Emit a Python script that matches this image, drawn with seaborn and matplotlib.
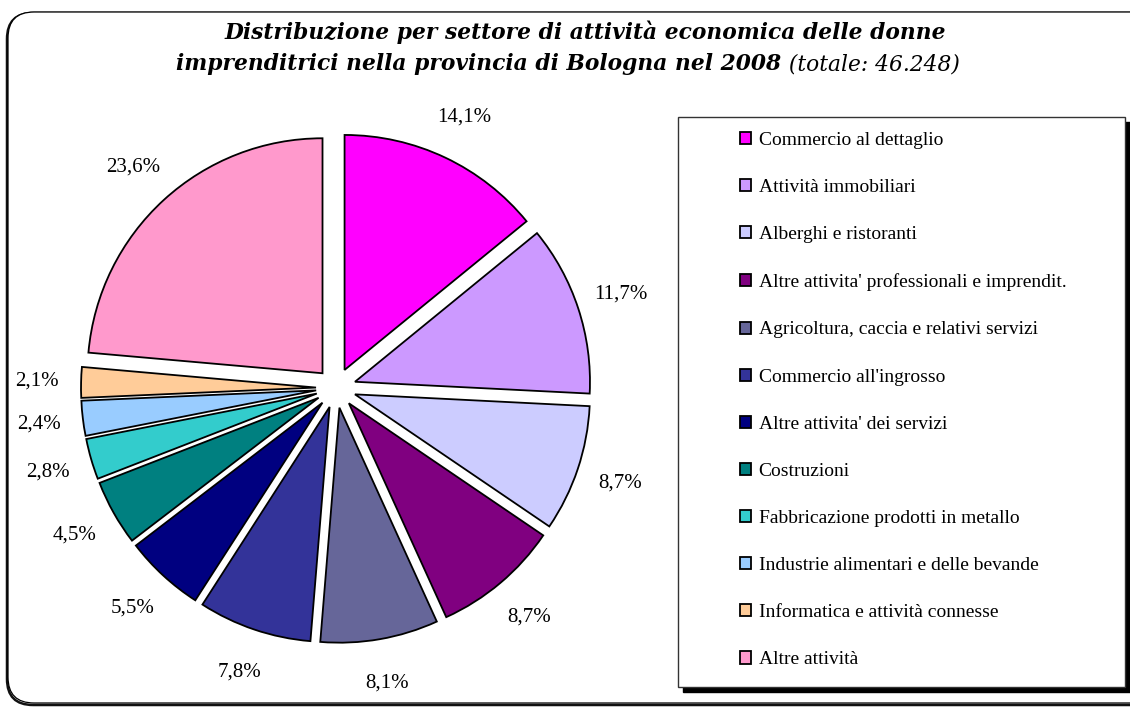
import matplotlib
matplotlib.use('Agg')
import matplotlib.pyplot as plt
import seaborn as sns
from matplotlib.patches import FancyBboxPatch, Rectangle
from matplotlib.transforms import IdentityTransform

# ---- data ----
categories = [
    "Commercio al dettaglio",
    "Attività immobiliari",
    "Alberghi e ristoranti",
    "Altre attivita' professionali e imprendit.",
    "Agricoltura, caccia e relativi servizi",
    "Commercio all'ingrosso",
    "Altre attivita' dei servizi",
    "Costruzioni",
    "Fabbricazione prodotti in metallo",
    "Industrie alimentari e delle bevande",
    "Informatica e attività connesse",
    "Altre attività",
]
shares = [14.1, 11.7, 8.7, 8.7, 8.1, 7.8, 5.5, 4.5, 2.8, 2.4, 2.1, 23.6]
colors = ["#FF00FF", "#CC99FF", "#CCCCFF", "#800080", "#666699", "#333399",
          "#000080", "#008080", "#33CCCC", "#99CCFF", "#FFCC99", "#FF99CC"]
title_line1 = "Distribuzione per settore di attività economica delle donne"
title_line2_bold = "imprenditrici nella provincia di Bologna nel 2008"
title_line2_rest = " (totale: 46.248)"

sns.set_theme(style="white")
plt.rcParams['font.family'] = ['Liberation Serif', 'DejaVu Serif']
palette = sns.color_palette(colors)

W, H = 1130, 707
fig = plt.figure(figsize=(W / 100, H / 100), dpi=100)
fig.patch.set_facecolor('white')

# outer rounded border with shadow
shadow = FancyBboxPatch((7, 2), 1150, 692, boxstyle="round,pad=0,rounding_size=26",
                        transform=IdentityTransform(), facecolor='none',
                        edgecolor='#111111', linewidth=1.8, zorder=0)
border = FancyBboxPatch((8, 4), 1150, 691, boxstyle="round,pad=0,rounding_size=26",
                        transform=IdentityTransform(), facecolor='white',
                        edgecolor='black', linewidth=0.9, zorder=0)
fig.add_artist(shadow)
fig.add_artist(border)

# legend box with shadow
lx0, ly_top, lx1, ly_bot = 678, 117, 1125, 687
fig.add_artist(Rectangle((lx0 + 5, H - ly_bot - 5), lx1 - lx0, ly_bot - ly_top,
                         transform=IdentityTransform(), facecolor='black',
                         edgecolor='black', zorder=0.5))
fig.add_artist(Rectangle((lx0, H - ly_bot), lx1 - lx0, ly_bot - ly_top,
                         transform=IdentityTransform(), facecolor='white',
                         edgecolor='#333333', linewidth=1.0, zorder=0.6))

# pie axes: 1 data unit = pie radius in pixels
R = 235.0
cx, cy = 336.0, H - 388.0
ax = fig.add_axes([0, 0, 1, 1])
ax.set_zorder(2)
ax.patch.set_alpha(0)
wedges, texts, autotexts = ax.pie(
    shares, colors=palette, startangle=90, counterclock=False,
    explode=[0.085] * len(shares), radius=1,
    autopct=lambda p: f"{p:.1f}%".replace('.', ','), pctdistance=1.19,
    textprops=dict(fontsize=15, color='black'),
    wedgeprops=dict(edgecolor='black', linewidth=1.3),
)
ax.set_aspect('auto')
ax.set_xlim(-cx / R, (W - cx) / R)
ax.set_ylim(-cy / R, (H - cy) / R)
ax.axis('off')

leg = ax.legend(wedges, categories, loc='upper left',
                bbox_to_anchor=(740 / W, 1 - 132 / H), bbox_transform=fig.transFigure,
                frameon=False, fontsize=14, handlelength=0.58, handleheight=0.58,
                handletextpad=0.38, labelspacing=1.55, borderpad=0, borderaxespad=0)
for t in leg.get_texts():
    t.set_color('black')

# title
tkw = dict(fontsize=15.7, fontstyle='italic', family=['DejaVu Serif'], va='center',
           color='black')
fig.text(585 / W, 1 - 32 / H, title_line1, ha='center', fontweight='bold', **tkw)
renderer = fig.canvas.get_renderer()
t_a = fig.text(0, 1 - 64 / H, title_line2_bold, ha='left', fontweight='bold', **tkw)
t_b = fig.text(0, 1 - 64 / H, title_line2_rest, ha='left', fontweight='normal', **tkw)
wa = t_a.get_window_extent(renderer).width
wb = t_b.get_window_extent(renderer).width
x0 = 568 - (wa + wb) / 2
t_a.set_x(x0 / W)
t_b.set_x((x0 + wa) / W)

fig.savefig('out.png', dpi=100, facecolor='white')
